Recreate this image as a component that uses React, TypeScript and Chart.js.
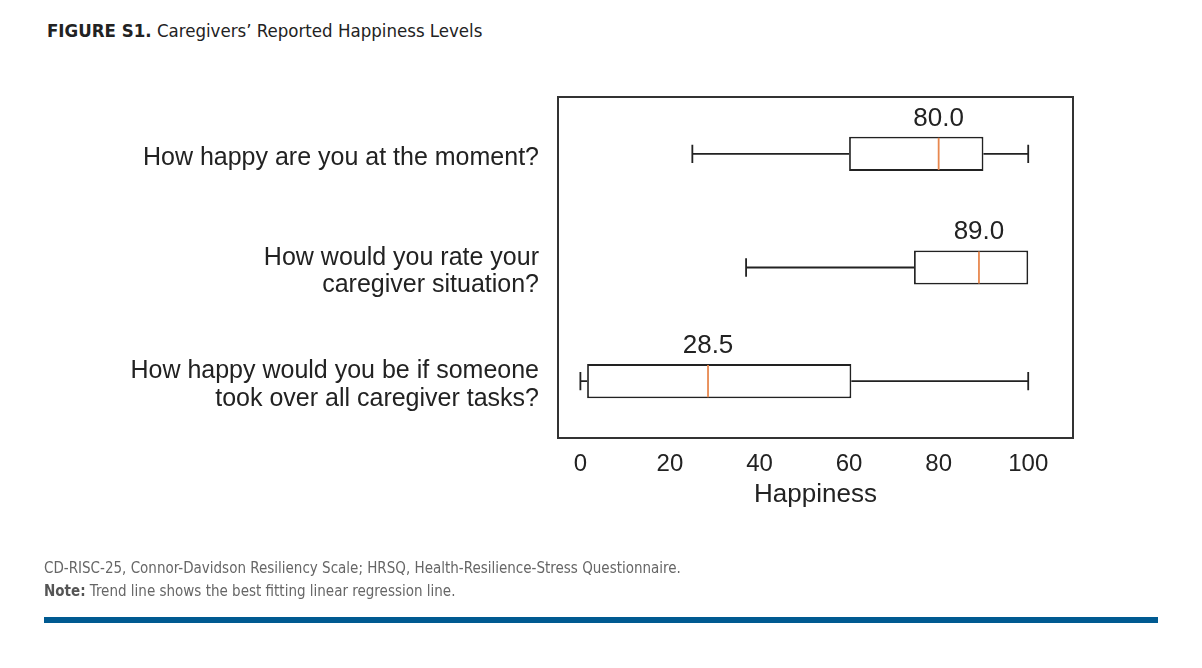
import React, { useEffect, useRef } from "react";
import { Chart, registerables } from "chart.js";

Chart.register(...registerables);

const categories: string[][] = [
  ["How happy are you at the moment?"],
  ["How would you rate your", "caregiver situation?"],
  ["How happy would you be if someone", "took over all caregiver tasks?"],
];
const whiskerLow = [25, 37, 0];
const q1 = [60, 74.5, 1.5];
const medians = [80, 89, 28.5];
const q3 = [90, 100, 60.5];
const whiskerHigh = [100, 100, 100];
const medianLabels = ["80.0", "89.0", "28.5"];
const xTicks = [0, 20, 40, 60, 80, 100];

const FONT = "'Liberation Sans', Arial, Helvetica, sans-serif";
const NARROW = "'Liberation Sans Narrow', 'DejaVu Sans Condensed', sans-serif";

const boxPlugin = {
  id: "boxExtras",
  beforeDatasetsDraw(chart: any) {
    const { ctx, scales } = chart;
    const x = scales.x;
    const y = scales.y;
    const meta = chart.getDatasetMeta(0);
    ctx.save();
    ctx.strokeStyle = "#222";
    ctx.lineWidth = 1.8;
    categories.forEach((_, i) => {
      const yc = y.getPixelForValue(i);
      const h = meta.data[i] ? meta.data[i].height : 34;
      const cap = h * 0.27;
      const xl = x.getPixelForValue(whiskerLow[i]);
      const xq1 = x.getPixelForValue(q1[i]);
      const xq3 = x.getPixelForValue(q3[i]);
      const xh = x.getPixelForValue(whiskerHigh[i]);
      ctx.beginPath();
      ctx.moveTo(xl, yc);
      ctx.lineTo(xq1, yc);
      ctx.moveTo(xq3, yc);
      ctx.lineTo(xh, yc);
      ctx.moveTo(xl, yc - cap);
      ctx.lineTo(xl, yc + cap);
      if (whiskerHigh[i] !== q3[i]) {
        ctx.moveTo(xh, yc - cap);
        ctx.lineTo(xh, yc + cap);
      }
      ctx.stroke();
    });
    ctx.restore();
  },
  afterDatasetsDraw(chart: any) {
    const { ctx, scales, chartArea } = chart;
    const x = scales.x;
    const y = scales.y;
    const meta = chart.getDatasetMeta(0);
    ctx.save();
    categories.forEach((_, i) => {
      const yc = y.getPixelForValue(i);
      const h = meta.data[i] ? meta.data[i].height : 34;
      const xm = x.getPixelForValue(medians[i]);
      ctx.strokeStyle = "#e8884f";
      ctx.lineWidth = 1.8;
      ctx.beginPath();
      ctx.moveTo(xm, yc - h / 2 + 1);
      ctx.lineTo(xm, yc + h / 2 - 1);
      ctx.stroke();
      ctx.fillStyle = "#222";
      ctx.font = `26px ${FONT}`;
      ctx.textAlign = "center";
      ctx.textBaseline = "alphabetic";
      ctx.fillText(medianLabels[i], xm, yc - h / 2 - 11);
    });
    ctx.strokeStyle = "#333";
    ctx.lineWidth = 2;
    ctx.strokeRect(
      chartArea.left,
      chartArea.top,
      chartArea.right - chartArea.left,
      chartArea.bottom - chartArea.top
    );
    ctx.restore();
  },
};

export default function App() {
  const ref = useRef<HTMLCanvasElement | null>(null);
  useEffect(() => {
    if (!ref.current) return;
    const chart = new Chart(ref.current, {
      type: "bar",
      data: {
        labels: categories as any,
        datasets: [
          {
            data: q1.map((v, i) => [v, q3[i]]) as any,
            backgroundColor: "#ffffff",
            borderColor: "#222",
            borderWidth: 1.8,
            borderSkipped: false,
            categoryPercentage: 1,
            barPercentage: 0.3,
          },
        ],
      },
      options: {
        indexAxis: "y",
        animation: false,
        responsive: false,
        maintainAspectRatio: false,
        devicePixelRatio: 1,
        layout: { padding: { left: 0, top: 97, right: 129, bottom: 158 } },
        plugins: {
          legend: { display: false },
          tooltip: { enabled: false },
          title: { display: false },
        },
        scales: {
          x: {
            type: "linear",
            min: -5,
            max: 110,
            afterBuildTicks: (s: any) => {
              s.ticks = xTicks.map((v) => ({ value: v }));
            },
            afterFit: (s: any) => {
              s.height = 72;
            },
            grid: { display: false, drawTicks: false },
            border: { display: false },
            ticks: {
              padding: 12,
              color: "#222",
              font: { family: FONT, size: 24 },
            },
            title: {
              display: true,
              text: "Happiness",
              color: "#222",
              font: { family: FONT, size: 26 },
              padding: { top: 0, bottom: 0 },
            },
          },
          y: {
            type: "category",
            offset: true,
            afterFit: (s: any) => {
              s.width = 558;
            },
            grid: { display: false, drawTicks: false },
            border: { display: false },
            ticks: {
              padding: 19,
              labelOffset: 4,
              color: "#222",
              font: { family: FONT, size: 25, lineHeight: 1.1 },
            },
          },
        },
      },
      plugins: [boxPlugin],
    });
    return () => chart.destroy();
  }, []);

  return (
    <div
      style={{
        position: "absolute",
        left: 0,
        top: 0,
        width: 1202,
        height: 668,
        background: "#fff",
        overflow: "hidden",
      }}
    >
      <div
        style={{
          position: "absolute",
          left: 47,
          top: 20,
          fontFamily: NARROW,
          fontSize: 18.5,
          color: "#222",
          whiteSpace: "nowrap",
          lineHeight: "22px",
        }}
      >
        <span style={{ fontWeight: 700 }}>FIGURE S1.</span> Caregivers’ Reported Happiness Levels
      </div>
      <canvas
        ref={ref}
        width={1202}
        height={668}
        style={{ position: "absolute", left: 0, top: 0, width: 1202, height: 668 }}
      />
      <div
        style={{
          position: "absolute",
          left: 44,
          top: 557,
          fontFamily: NARROW,
          fontSize: 15,
          color: "#666",
          whiteSpace: "nowrap",
          lineHeight: "23px",
        }}
      >
        <div>CD-RISC-25, Connor-Davidson Resiliency Scale; HRSQ, Health-Resilience-Stress Questionnaire.</div>
        <div>
          <span style={{ fontWeight: 700, color: "#555" }}>Note:</span> Trend line shows the best fitting linear regression line.
        </div>
      </div>
      <div
        style={{
          position: "absolute",
          left: 44,
          top: 617,
          width: 1114,
          height: 6,
          background: "#005a91",
        }}
      />
    </div>
  );
}
